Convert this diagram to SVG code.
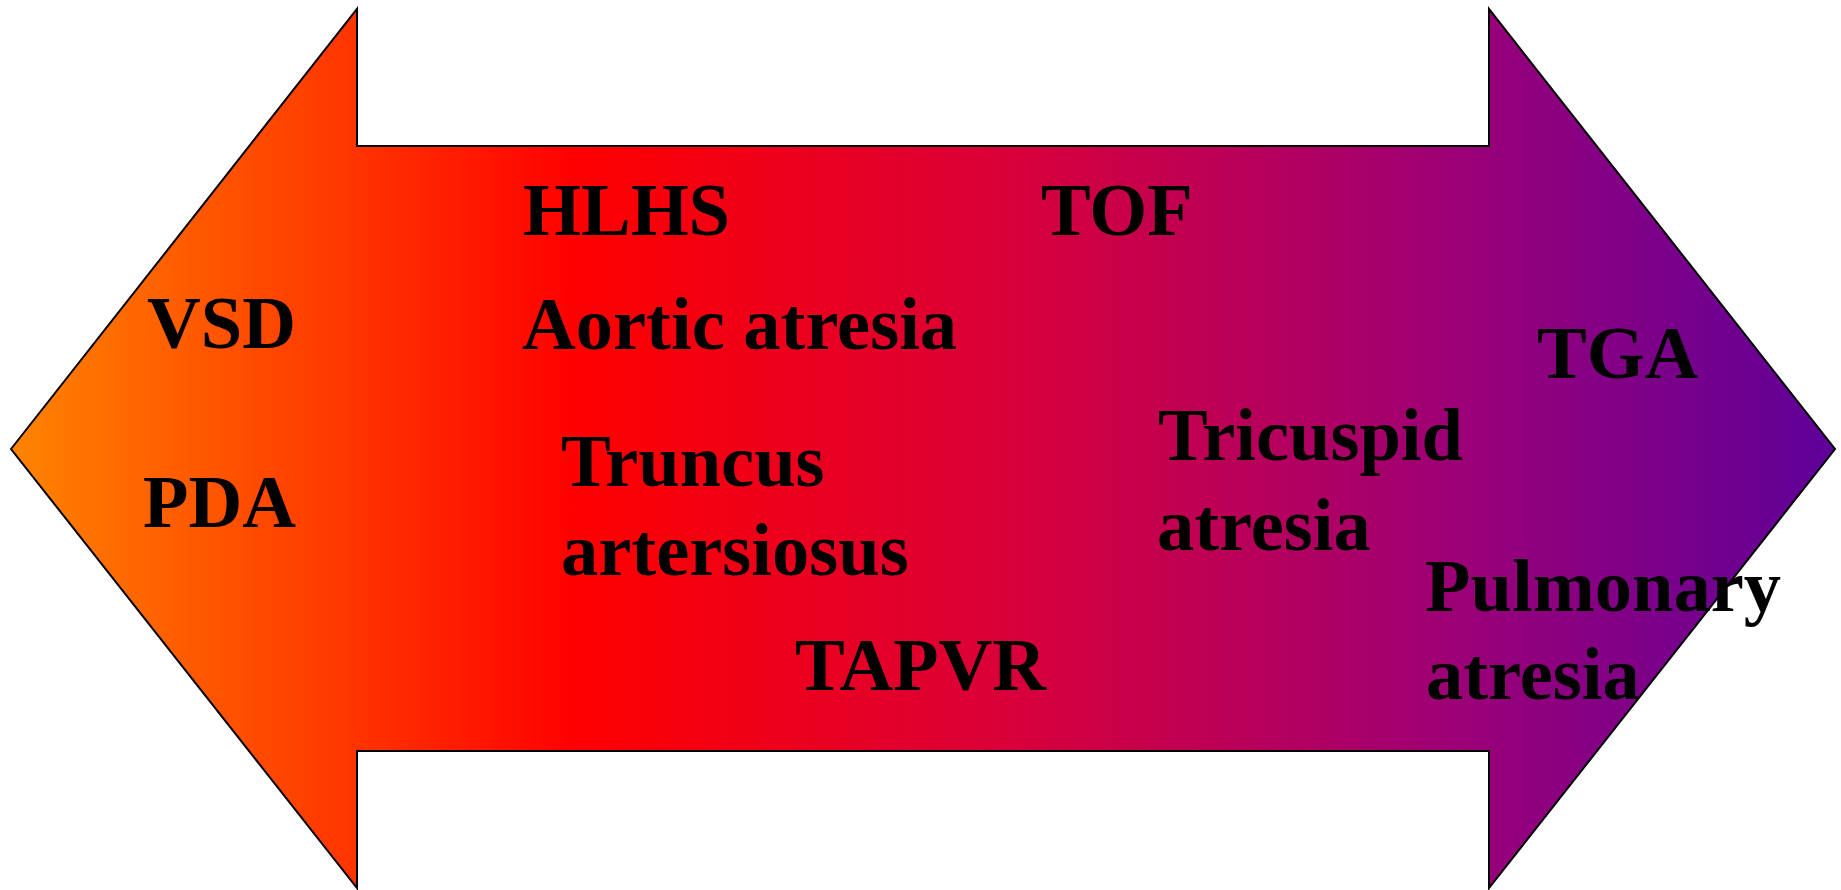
<svg xmlns="http://www.w3.org/2000/svg" width="1841" height="890" viewBox="0 0 1841 890">
<defs>
<linearGradient id="g" x1="11" y1="0" x2="1835" y2="0" gradientUnits="userSpaceOnUse">
<stop offset="0" stop-color="#FF8400"/>
<stop offset="0.31" stop-color="#FF0000"/>
<stop offset="0.55" stop-color="#D8003A"/>
<stop offset="0.8" stop-color="#9A0078"/>
<stop offset="1" stop-color="#5E0099"/>
</linearGradient>
<style>
.t{font-family:"Liberation Serif","Times New Roman",serif;font-weight:bold;font-size:74.5px;fill:#000}
</style>
</defs>
<g id="arrow">
<polygon points="11,449 357,9 357,146 1489,146 1489,9 1835,449 1489,888 1489,751 357,751 357,888" fill="url(#g)" stroke="#000" stroke-width="2"/>
</g>
<g id="connectors"/>
<g id="vsd"><text class="t" x="147" y="348">VSD</text></g>
<g id="pda"><text class="t" x="143" y="527">PDA</text></g>
<g id="hlhs"><text class="t" x="523" y="235">HLHS</text></g>
<g id="aortic"><text class="t" x="522" y="349">Aortic atresia</text></g>
<g id="truncus"><text class="t" x="561" y="486">Truncus</text><text class="t" x="561" y="575">artersiosus</text></g>
<g id="tapvr"><text class="t" x="795" y="690">TAPVR</text></g>
<g id="tof"><text class="t" x="1041" y="235">TOF</text></g>
<g id="tga"><text class="t" x="1537" y="378">TGA</text></g>
<g id="tricuspid"><text class="t" x="1158" y="460">Tricuspid</text><text class="t" x="1157" y="550">atresia</text></g>
<g id="pulmonary"><text class="t" x="1425" y="611">Pulmonary</text><text class="t" x="1426" y="699">atresia</text></g>
</svg>
